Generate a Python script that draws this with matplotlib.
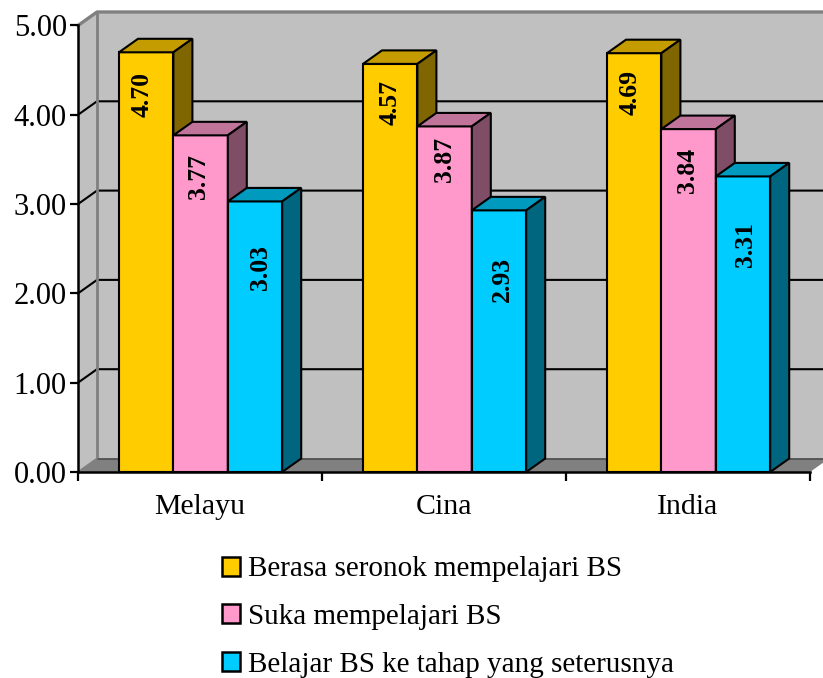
import matplotlib
matplotlib.use("Agg")
import matplotlib.pyplot as plt
from matplotlib.patches import Polygon, Patch

categories = ["Melayu", "Cina", "India"]
series_names = ["Berasa seronok mempelajari BS", "Suka mempelajari BS",
                "Belajar BS ke tahap yang seterusnya"]
seronok = [4.70, 4.57, 4.69]
suka = [3.77, 3.87, 3.84]
belajar = [3.03, 2.93, 3.31]
y_ticks = [0, 1, 2, 3, 4, 5]

front_colors = ["#FFCC00", "#FF99CC", "#00CCFF"]
top_colors = ["#C49C00", "#C0749A", "#009ABF"]
side_colors = ["#806600", "#804D66", "#006680"]

W, H = 823, 678
X0, X1, Y0, Y5 = 78, 810, 472, 25.5

plt.rcParams["font.family"] = ["Liberation Serif", "DejaVu Serif"]
fig = plt.figure(figsize=(W / 100, H / 100), dpi=100)
ax = fig.add_axes([X0 / W, 1 - Y0 / H, (X1 - X0) / W, (Y0 - Y5) / H])
ax.set_xlim(0, 3)
ax.set_ylim(0, 5)
ax.patch.set_visible(False)

# Oblique depth of the pseudo-3D box, in data units
px_x = 3 / (X1 - X0)
px_y = 5 / (Y0 - Y5)
dx = 19 * px_x
dy = 13.5 * px_y
EDGE = 1.5


def poly(pts, face, edge="black", lw=EDGE, z=2):
    ax.add_patch(Polygon(pts, closed=True, facecolor=face, edgecolor=edge,
                         linewidth=lw, zorder=z, clip_on=False, joinstyle="miter"))


# Walls and floor
poly([(0, 0), (dx, dy), (dx, 5 + dy), (0, 5)], "#C0C0C0", edge="none", z=1)
poly([(dx, dy), (3 + dx, dy), (3 + dx, 5 + dy), (dx, 5 + dy)], "#C0C0C0", edge="none", z=1)
poly([(0, 0), (3, 0), (3 + dx, dy), (dx, dy)], "#808080", edge="none", z=1)

# Gridlines wrap from the side wall onto the back wall
for v in y_ticks[1:-1]:
    ax.plot([0, dx, 3 + dx], [v, v + dy, v + dy], color="black", lw=EDGE,
            zorder=1.5, clip_on=False, solid_joinstyle="miter")
ax.plot([0, dx, 3 + dx], [5, 5 + dy, 5 + dy], color="#808080", lw=2.4,
        zorder=1.5, clip_on=False)
ax.plot([dx, dx], [dy, 5 + dy], color="#808080", lw=2.0, zorder=1.5, clip_on=False)
ax.plot([dx, 3 + dx], [dy, dy], color="#505050", lw=1.25, zorder=1.5, clip_on=False)
ax.plot([0, dx], [0, dy], color="#808080", lw=1.25, zorder=1.5, clip_on=False)

# Bars, painted back to front so that each one covers its left neighbour
bar_w = 54.4 * px_x
first = 41 * px_x
label_drop = [[42, 39, 39], [41, 33, 41], [66, 69, 68]]
label_shift = [[-4, 0, -4], [-2, 0, -1], [5, 3, 3]]
for s, vals in enumerate([seronok, suka, belajar]):
    for c, v in enumerate(vals):
        x = c + first + s * bar_w
        z = 2 + c * 3 + s * 0.3
        poly([(x, 0), (x + bar_w, 0), (x + bar_w, v), (x, v)], front_colors[s], z=z)
        poly([(x, v), (x + bar_w, v), (x + bar_w + dx, v + dy), (x + dx, v + dy)],
             top_colors[s], z=z)
        poly([(x + bar_w, 0), (x + bar_w + dx, dy), (x + bar_w + dx, v + dy), (x + bar_w, v)],
             side_colors[s], z=z)
        ax.text(x + bar_w / 2 + label_shift[s][c] * px_x, v - label_drop[s][c] * px_y, f"{v:.2f}",
                rotation=90, ha="center", va="center", fontsize=18.5,
                fontweight="bold", color="black", zorder=z + 0.1)

# Axes
for name in ("top", "right"):
    ax.spines[name].set_visible(False)
for name in ("left", "bottom"):
    ax.spines[name].set_linewidth(1.8)
    ax.spines[name].set_zorder(20)
    ax.spines[name].set_capstyle("projecting")
ax.set_yticks(y_ticks)
ax.set_yticklabels([f"{v:.2f}" for v in y_ticks])
ax.set_xticks([0, 1, 2, 3])
ax.set_xticklabels([])
ax.set_xticks([0.5, 1.5, 2.5], categories, minor=True)
ax.tick_params(axis="y", length=6, width=1.6, labelsize=22, pad=2, color="black")
ax.tick_params(axis="x", which="major", length=6.5, width=1.6, color="black")
ax.tick_params(axis="x", which="minor", length=0, labelsize=21.5, pad=16)

# Legend
handles = [Patch(facecolor=front_colors[i], edgecolor="black", linewidth=1.8, label=series_names[i])
           for i in range(3)]
fig.legend(handles=handles, loc="upper left", bbox_to_anchor=(222 / W, 1 - 556.5 / H),
           frameon=False, fontsize=21, labelspacing=0.74, handlelength=0.62,
           handleheight=0.62, handletextpad=0.26, borderaxespad=0, borderpad=0)

fig.savefig("out.png", dpi=100, facecolor="white")
